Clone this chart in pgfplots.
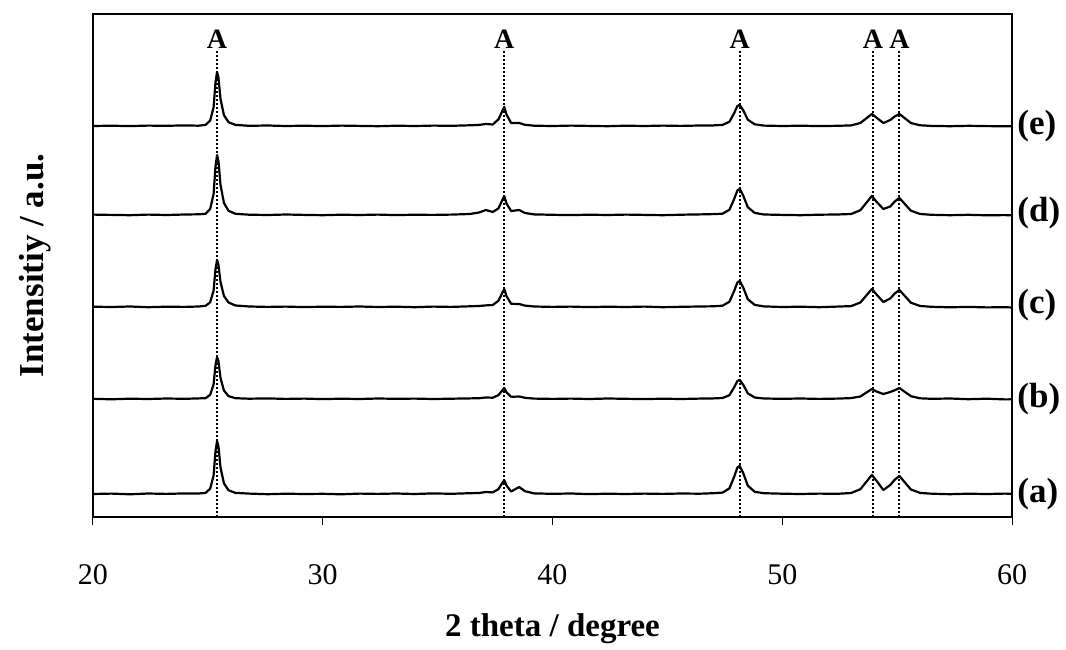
\documentclass[border=0pt]{standalone}
\usepackage{fontspec}
\setmainfont{Liberation Serif}
\usepackage{pgfplots}
\usepackage{pgfplotstable}
\pgfplotsset{compat=1.18}

% XRD patterns, intensity in px above each baseline
\pgfplotstableread{
x y
20.0 0.0
20.8 0.4
21.6 -0.3
22.4 0.5
23.2 0.1
24.0 0.6
24.6 0.5
24.9 1.1
25.1 5.3
25.25 18.6
25.33 42.4
25.4 53
25.46 47.7
25.55 26.5
25.7 10.6
25.9 3.7
26.2 1.1
26.8 0.4
27.6 -0.2
28.4 0.3
29.2 0.0
30.0 0.2
30.8 -0.3
31.6 0.4
32.4 0.1
33.2 0.5
34.0 0.0
34.8 0.6
35.6 0.2
36.4 0.8
36.8 1.0
37.1 2.0
37.4 1.6
37.65 4.9
37.82 11.2
37.9 14
38.0 8.4
38.2 2.5
38.55 7
38.8 2.8
39.2 0.6
40.0 0.2
40.8 0.5
41.6 -0.1
42.4 0.3
43.2 0.0
44.0 0.4
44.8 0.1
45.6 0.5
46.4 0.3
47.0 0.8
47.4 1.4
47.7 5.6
47.9 16.8
48.05 26.6
48.15 28
48.3 21
48.5 8.4
48.8 2.2
49.2 0.8
50.0 0.3
50.8 0.0
51.6 0.4
52.4 0.2
53.0 1.0
53.4 4.8
53.7 13.3
53.9 19
54.1 13.3
54.4 4
54.7 9
54.9 14.4
55.1 18
55.3 12.6
55.6 4.5
56.0 1.1
56.5 0.3
57.3 -0.2
58.1 0.3
58.9 0.0
59.7 0.4
60.0 0.2
}\sera

\pgfplotstableread{
x y
20.0 0.2
20.8 -0.3
21.6 0.3
22.4 0.0
23.2 0.5
24.0 0.2
24.6 0.6
24.9 0.8
25.1 4.2
25.25 14.7
25.33 33.6
25.4 42
25.46 37.8
25.55 21
25.7 8.4
25.9 2.9
26.2 0.8
26.8 0.3
27.6 0.6
28.4 0.1
29.2 0.4
30.0 -0.1
30.8 0.3
31.6 0.0
32.4 0.5
33.2 0.2
34.0 0.4
34.8 0.0
35.6 0.3
36.4 0.6
36.8 0.8
37.1 1.5
37.4 1.3
37.65 3.9
37.82 8.8
37.9 11
38.0 6.6
38.2 2.2
38.55 2.5
38.8 1.2
39.2 0.4
40.0 0.1
40.8 0.4
41.6 0.0
42.4 0.5
43.2 0.2
44.0 -0.1
44.8 0.3
45.6 0.0
46.4 0.4
47.0 0.6
47.4 1.0
47.7 3.8
47.9 11.4
48.05 18
48.15 19
48.3 14.3
48.5 5.7
48.8 1.5
49.2 0.5
50.0 0.2
50.8 0.5
51.6 0.1
52.4 0.4
53.0 0.9
53.4 2.5
53.7 7
53.9 10
54.1 7.5
54.4 5
54.7 7
54.9 8.8
55.1 11
55.3 7.7
55.6 2.8
56.0 0.7
56.5 0.2
57.3 0.5
58.1 -0.2
58.9 0.3
59.7 -0.4
60.0 -0.3
}\serb

\pgfplotstableread{
x y
20.0 0.3
20.8 0.0
21.6 0.5
22.4 -0.2
23.2 0.3
24.0 0.1
24.6 0.5
24.9 1.2
25.1 4.7
25.25 16.5
25.33 37.6
25.4 47
25.46 42.3
25.55 25
25.7 11
25.9 4.5
26.2 1.5
26.8 0.5
27.6 0.1
28.4 0.4
29.2 -0.1
30.0 0.3
30.8 0.1
31.6 0.5
32.4 0.0
33.2 0.3
34.0 -0.2
34.8 0.4
35.6 0.1
36.4 0.7
36.8 1.0
37.1 1.6
37.4 2.0
37.65 6.3
37.82 14.4
37.9 18
38.0 10.8
38.2 3.2
38.55 3
38.8 1.4
39.2 0.5
40.0 0.1
40.8 0.4
41.6 -0.1
42.4 0.3
43.2 0.0
44.0 0.4
44.8 -0.2
45.6 0.2
46.4 0.5
47.0 0.7
47.4 1.3
47.7 5.2
47.9 15.6
48.05 24.7
48.15 26
48.3 19.5
48.5 7.8
48.8 2.1
49.2 0.6
50.0 0.0
50.8 0.3
51.6 -0.2
52.4 0.4
53.0 0.9
53.4 4.5
53.7 12.6
53.9 18
54.1 12.6
54.4 5
54.7 8.5
54.9 13.6
55.1 17
55.3 11.9
55.6 4.3
56.0 1.0
56.5 0.2
57.3 -0.3
58.1 0.1
58.9 -0.4
59.7 -0.2
60.0 -0.5
}\serc

\pgfplotstableread{
x y
20.0 0.4
20.8 0.1
21.6 -0.2
22.4 0.4
23.2 0.0
24.0 0.5
24.6 0.7
24.9 1.2
25.1 6
25.25 21
25.33 48
25.4 60
25.46 54
25.55 30
25.7 12
25.9 4.2
26.2 1.2
26.8 0.3
27.6 0.0
28.4 0.5
29.2 0.1
30.0 -0.2
30.8 0.3
31.6 0.0
32.4 0.4
33.2 -0.1
34.0 0.3
34.8 0.1
35.6 0.4
36.4 1.0
36.8 2.5
37.1 5
37.4 3
37.65 6.7
37.82 15.2
37.9 19
38.0 11.4
38.2 4
38.55 5
38.8 2
39.2 0.6
40.0 0.2
40.8 -0.1
41.6 0.3
42.4 0.0
43.2 0.4
44.0 0.1
44.8 -0.2
45.6 0.3
46.4 0.6
47.0 0.9
47.4 1.3
47.7 5.2
47.9 15.6
48.05 24.7
48.15 26
48.3 19.5
48.5 7.8
48.8 2.1
49.2 0.5
50.0 0.1
50.8 -0.2
51.6 0.3
52.4 0.5
53.0 1.0
53.4 4.8
53.7 13.3
53.9 19
54.1 13.3
54.4 6
54.7 8.5
54.9 13.6
55.1 17
55.3 11.9
55.6 4.3
56.0 1.0
56.5 0.2
57.3 -0.2
58.1 0.2
58.9 -0.3
59.7 -0.1
60.0 -0.4
}\serd

\pgfplotstableread{
x y
20.0 0.0
20.8 0.3
21.6 -0.1
22.4 0.4
23.2 0.2
24.0 0.6
24.6 0.3
24.9 1.1
25.1 5.4
25.25 18.9
25.33 43.2
25.4 54
25.46 48.6
25.55 27
25.7 10.8
25.9 3.8
26.2 1.1
26.8 0.2
27.6 0.5
28.4 0.0
29.2 0.3
30.0 -0.1
30.8 0.4
31.6 0.1
32.4 -0.2
33.2 0.3
34.0 0.0
34.8 0.4
35.6 0.2
36.4 0.7
36.8 1.1
37.1 2.0
37.4 1.5
37.65 6.7
37.82 15.2
37.9 19
38.0 11.4
38.2 3
38.55 3
38.8 1.2
39.2 0.3
40.0 0.0
40.8 0.4
41.6 0.1
42.4 -0.2
43.2 0.3
44.0 0.0
44.8 0.4
45.6 0.1
46.4 0.5
47.0 0.6
47.4 1.1
47.7 4.2
47.9 12.6
48.05 20
48.15 21
48.3 15.8
48.5 6.3
48.8 1.7
49.2 0.4
50.0 0.0
50.8 0.3
51.6 -0.1
52.4 0.2
53.0 0.6
53.4 3
53.7 8.4
53.9 12
54.1 8.4
54.4 3
54.7 6
54.9 9.6
55.1 12
55.3 8.4
55.6 3
56.0 0.7
56.5 0.1
57.3 -0.2
58.1 0.2
58.9 -0.1
59.7 -0.3
60.0 -0.2
}\sere

\begin{document}
\begin{tikzpicture}
\useasboundingbox (-46.5pt,-66pt) rectangle (486.5pt,258.5pt);
\begin{axis}[
    at={(0,0)}, anchor=south west,
    scale only axis,
    width=459.5pt, height=251.5pt,
    xmin=20, xmax=60,
    ymin=0, ymax=503,
    xtick={20,30,40,50,60},
    ytick=\empty,
    xtick pos=left,
    tick align=outside,
    major tick length=4pt,
    every tick/.style={black, line width=0.5pt},
    axis line style={line width=1pt},
    clip=false,
    /pgf/number format/assume math mode=true,
    xticklabel style={font=\fontsize{15}{18}\selectfont, yshift=-16pt},
    xlabel={2 theta / degree},
    xlabel style={font=\fontsize{16.5}{19}\selectfont\bfseries,
        at={(axis description cs:0.5,0)}, anchor=center, yshift=-56pt},
    ylabel={Intensitiy / a.u.},
    ylabel style={font=\fontsize{17.5}{20}\selectfont\bfseries,
        at={(axis description cs:-0.063,0.5)}, anchor=center},
    curve/.style={black, line width=1.1pt, line join=round, no markers},
    ref/.style={black, line width=1pt, dash pattern=on 1pt off 1pt, no markers},
]
\addplot[curve] table[x=x, y expr=\thisrow{y}+23] {\sera};
\addplot[curve] table[x=x, y expr=\thisrow{y}+118] {\serb};
\addplot[curve] table[x=x, y expr=\thisrow{y}+210] {\serc};
\addplot[curve] table[x=x, y expr=\thisrow{y}+302] {\serd};
\addplot[curve] table[x=x, y expr=\thisrow{y}+391] {\sere};

% anatase reference lines
\addplot[ref] coordinates {(25.4,0) (25.4,467)};
\addplot[ref] coordinates {(37.9,0) (37.9,467)};
\addplot[ref] coordinates {(48.15,0) (48.15,467)};
\addplot[ref] coordinates {(53.95,0) (53.95,467)};
\addplot[ref] coordinates {(55.1,0) (55.1,467)};

\begin{scope}[every node/.style={font=\fontsize{14}{16}\selectfont\bfseries}]
\node at (axis cs:25.4,478) {A};
\node at (axis cs:37.9,478) {A};
\node at (axis cs:48.15,478) {A};
\node at (axis cs:53.95,478) {A};
\node at (axis cs:55.1,478) {A};
\end{scope}

\begin{scope}[every node/.style={font=\fontsize{17.5}{20}\selectfont\bfseries, anchor=west, inner sep=0pt, xshift=2.5pt}]
\node at (axis cs:60,391) {(e)};
\node at (axis cs:60,304) {(d)};
\node at (axis cs:60,212) {(c)};
\node at (axis cs:60,118) {(b)};
\node at (axis cs:60,23) {(a)};
\end{scope}
\end{axis}
\end{tikzpicture}
\end{document}
